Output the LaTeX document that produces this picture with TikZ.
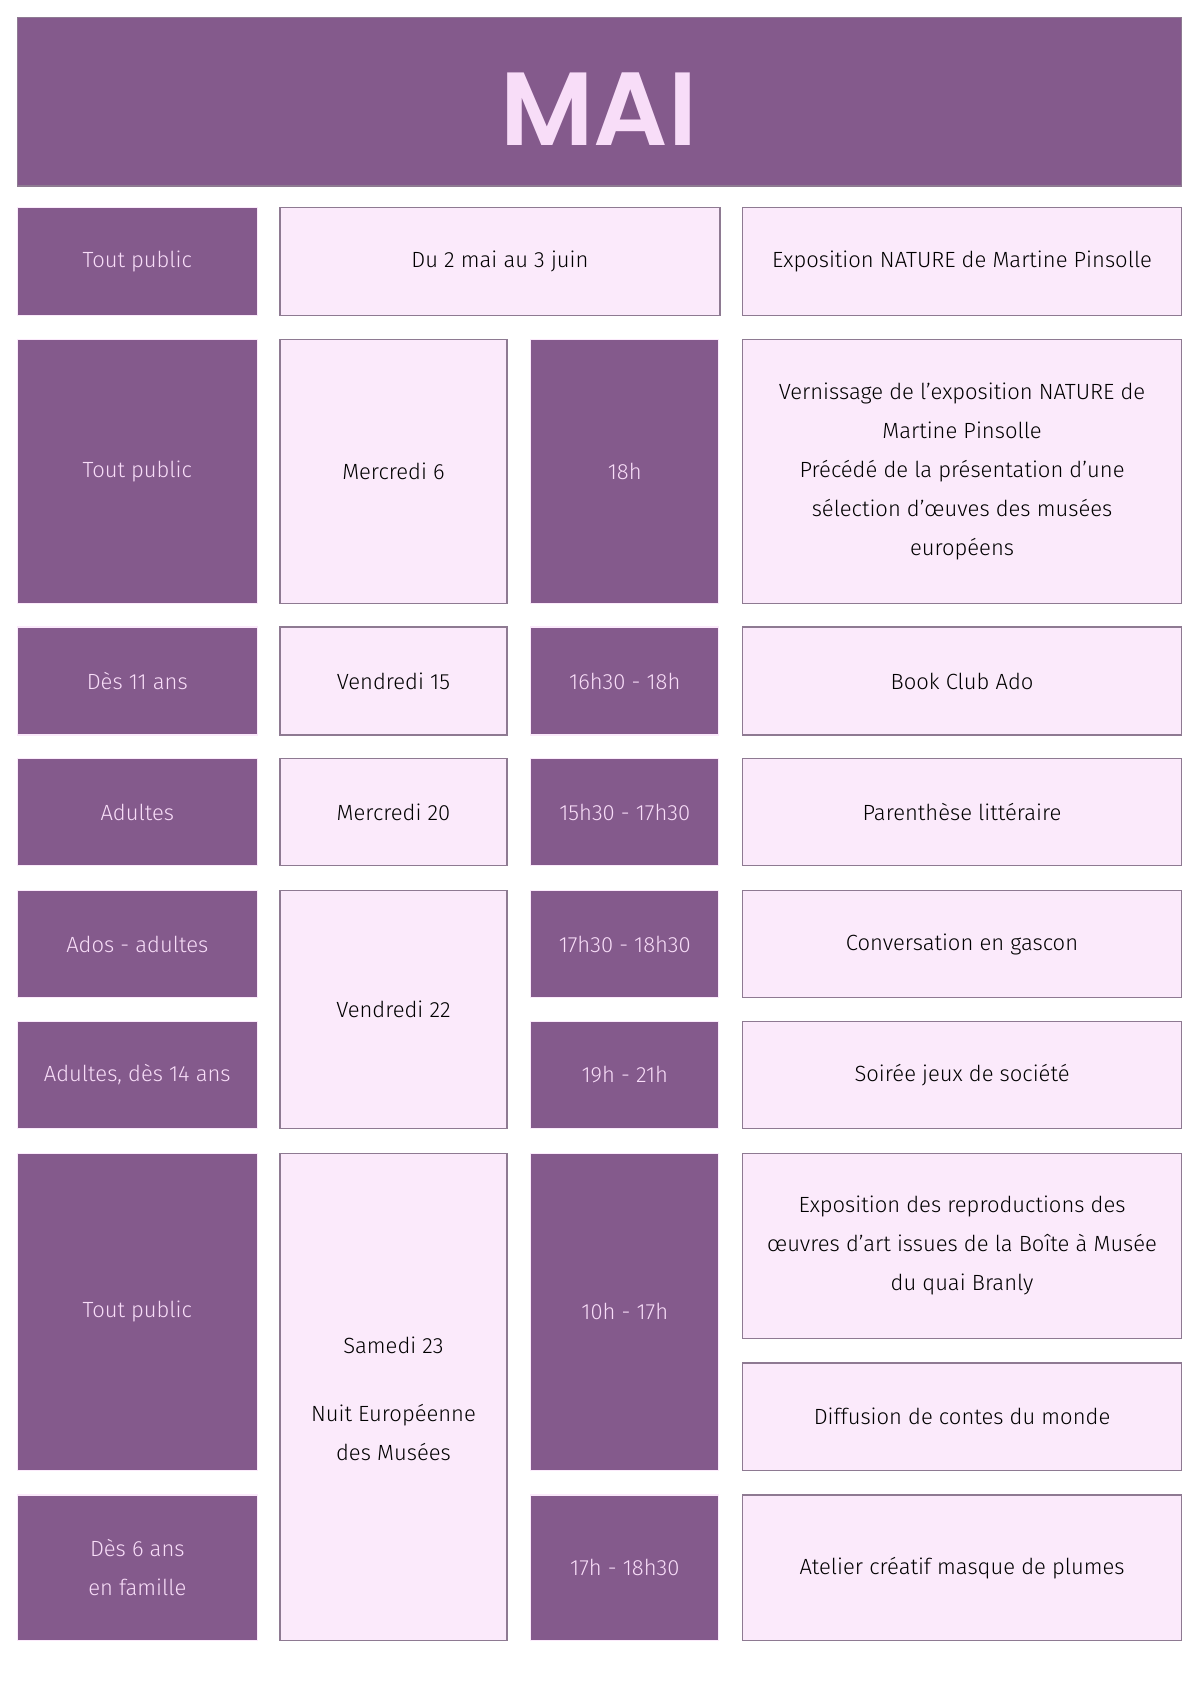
\documentclass[tikz,border=0pt]{standalone}
\usepackage{fontspec}
\setmainfont{Fira Sans Light}
\newfontfamily\titlefont{Poppins SemiBold}
\definecolor{dk}{HTML}{845A8C}
\definecolor{lt}{HTML}{FBEAFB}
\definecolor{bd}{HTML}{8E7A92}
\definecolor{tx}{HTML}{F8DDF8}
\begin{document}
\begin{tikzpicture}[x=0.5405pt,y=-0.5405pt,
  dbox/.style={fill=dk,draw=lt,line width=0.6pt},
  lbox/.style={fill=lt,draw=bd,line width=0.6pt},
  dtxt/.style={text=tx,align=center,font=\fontsize{11}{19.5}\selectfont},
  ltxt/.style={text=black,align=center,font=\fontsize{11}{19.5}\selectfont}]
\useasboundingbox (0,0) rectangle (1110,1569);
\fill[white] (0,0) rectangle (1110,1569);
\newcommand\dcell[5]{\draw[dbox] (#1,#2) rectangle (#3,#4); \node[dtxt] at ({(#1+#3)/2},{(#2+#4)/2}) {#5};}
\newcommand\lcell[5]{\draw[lbox] (#1,#2) rectangle (#3,#4); \node[ltxt] at ({(#1+#3)/2},{(#2+#4)/2}) {#5};}
\draw[fill=dk,draw=bd,line width=0.6pt] (16,16) rectangle (1093,172);
\node (title) at (554,101) {\titlefont\fontsize{52}{52}\selectfont\color{tx}MAI};
% row 1
\dcell{16}{192}{238}{292}{Tout public}
\lcell{259}{192}{666}{292}{Du 2 mai au 3 juin}
\lcell{687}{192}{1093}{292}{Exposition NATURE de Martine Pinsolle}
% row 2
\dcell{16}{314}{238}{558}{Tout public}
\lcell{259}{314}{469}{558}{Mercredi 6}
\dcell{491}{314}{665}{558}{18h}
\lcell{687}{314}{1093}{558}{Vernissage de l'exposition NATURE de\\Martine Pinsolle\\Précédé de la présentation d'une\\sélection d'œuves des musées\\européens}
% row 3
\dcell{16}{580}{238}{680}{Dès 11 ans}
\lcell{259}{580}{469}{680}{Vendredi 15}
\dcell{491}{580}{665}{680}{16h30 - 18h}
\lcell{687}{580}{1093}{680}{Book Club Ado}
% row 4
\dcell{16}{702}{238}{801}{Adultes}
\lcell{259}{702}{469}{801}{Mercredi 20}
\dcell{491}{702}{665}{801}{15h30 - 17h30}
\lcell{687}{702}{1093}{801}{Parenthèse littéraire}
% rows 5-6
\dcell{16}{824}{238}{923}{Ados - adultes}
\lcell{259}{824}{469}{1044}{Vendredi 22}
\dcell{491}{824}{665}{923}{17h30 - 18h30}
\lcell{687}{824}{1093}{923}{Conversation en gascon}
\dcell{16}{945}{238}{1044}{Adultes, dès 14 ans}
\dcell{491}{945}{665}{1044}{19h - 21h}
\lcell{687}{945}{1093}{1044}{Soirée jeux de société}
% rows 7-8
\dcell{16}{1067}{238}{1360}{Tout public}
\draw[lbox] (259,1067) rectangle (469,1518);
\node[ltxt] at (364,1294) {Samedi 23\\[1.3em]Nuit Européenne\\des Musées};
\dcell{491}{1067}{665}{1360}{10h - 17h}
\lcell{687}{1067}{1093}{1238}{Exposition des reproductions des\\œuvres d'art issues de la Boîte à Musée\\du quai Branly}
\lcell{687}{1261}{1093}{1360}{Diffusion de contes du monde}
\dcell{16}{1383}{238}{1518}{Dès 6 ans\\en famille}
\dcell{491}{1383}{665}{1518}{17h - 18h30}
\lcell{687}{1383}{1093}{1518}{Atelier créatif masque de plumes}
\end{tikzpicture}
\end{document}
